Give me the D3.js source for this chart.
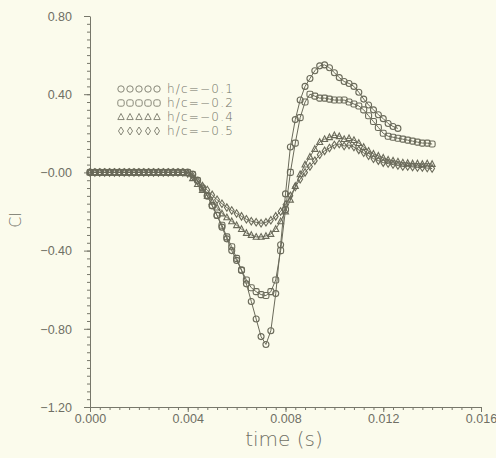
<!DOCTYPE html>
<html>
<head>
<meta charset="utf-8">
<script src="https://cdn.jsdelivr.net/npm/d3@7"></script>
<style>
  html, body { margin: 0; padding: 0; background: #fbfbec; }
  svg { display: block; font-family: "DejaVu Sans", sans-serif; }
  .tick text { fill: #6f6f64; font-size: 12.5px; font-weight: 200; }
  .domain, .tick line { stroke: #77776a; }
</style>
</head>
<body>
<svg id="chart"></svg>
<script>
const width = 496;
const height = 458;

// sampling step of the computed series (s)
const timeStep = 0.0002;

// lift coefficient, one value per time step
const cl01 = [
  0, 0, 0, 0, 0, 0, 0, 0, 0, 0, 0, 0, 0, 0, 0, 0, 0, 0, 0, 0, 0,
  -0.01, -0.04, -0.08, -0.12, -0.17, -0.22, -0.28, -0.34, -0.40, -0.45,
  -0.50, -0.57, -0.66, -0.75, -0.84, -0.88, -0.81, -0.62, -0.37, -0.11,
  0.13, 0.27, 0.37, 0.44, 0.48, 0.52, 0.545, 0.55, 0.535, 0.51,
  0.485, 0.465, 0.455, 0.44, 0.41, 0.375, 0.345, 0.32, 0.295, 0.275,
  0.25, 0.235, 0.225,
];
const cl02 = [
  0, 0, 0, 0, 0, 0, 0, 0, 0, 0, 0, 0, 0, 0, 0, 0, 0, 0, 0, 0, 0,
  -0.01, -0.04, -0.08, -0.12, -0.17, -0.22, -0.27, -0.33, -0.38, -0.44,
  -0.50, -0.55, -0.59, -0.61, -0.625, -0.63, -0.61, -0.55, -0.40, -0.19,
  0.0, 0.15, 0.28, 0.36, 0.40, 0.39, 0.38, 0.38, 0.375, 0.37,
  0.37, 0.37, 0.36, 0.35, 0.34, 0.32, 0.29, 0.26, 0.23, 0.20,
  0.185, 0.18, 0.175, 0.17, 0.165, 0.16, 0.155, 0.15, 0.15, 0.145,
];
const cl04 = [
  0, 0, 0, 0, 0, 0, 0, 0, 0, 0, 0, 0, 0, 0, 0, 0, 0, 0, 0, 0, -0.005,
  -0.03, -0.06, -0.09, -0.12, -0.15, -0.18, -0.21, -0.23, -0.25, -0.27,
  -0.29, -0.31, -0.32, -0.33, -0.33, -0.325, -0.315, -0.29, -0.25, -0.20,
  -0.14, -0.07, -0.01, 0.04, 0.08, 0.12, 0.155, 0.17, 0.18, 0.19,
  0.185, 0.17, 0.175, 0.165, 0.15, 0.13, 0.11, 0.095, 0.085, 0.075,
  0.065, 0.06, 0.055, 0.05, 0.048, 0.045, 0.045, 0.043, 0.045, 0.043,
];
const cl05 = [
  0, 0, 0, 0, 0, 0, 0, 0, 0, 0, 0, 0, 0, 0, 0, 0, 0, 0, 0, 0, -0.005,
  -0.02, -0.045, -0.07, -0.09, -0.115, -0.14, -0.16, -0.18, -0.195, -0.21,
  -0.225, -0.24, -0.25, -0.255, -0.26, -0.255, -0.245, -0.225, -0.20, -0.165,
  -0.12, -0.075, -0.035, 0.0, 0.03, 0.06, 0.09, 0.11, 0.125, 0.14,
  0.145, 0.135, 0.14, 0.13, 0.115, 0.10, 0.085, 0.07, 0.06, 0.05,
  0.045, 0.04, 0.035, 0.03, 0.03, 0.028, 0.025, 0.025, 0.022, 0.02,
];

const seriesNames = ["h/c=\u22120.1", "h/c=\u22120.2", "h/c=\u22120.4", "h/c=\u22120.5"];
const seriesValues = [cl01, cl02, cl04, cl05];
const seriesMarkers = ["circle", "square", "triangle", "diamond"];

const xTicks = [0, 0.004, 0.008, 0.012, 0.016];
const yTicks = [-1.2, -0.8, -0.4, 0, 0.4, 0.8];

const lineColor = "#6a6a5a";
const textColor = "#6f6f64";

const svg = d3.select("#chart").attr("width", width).attr("height", height);

const x = d3.scaleLinear().domain([0, 0.016]).range([90, 481]);
const y = d3.scaleLinear().domain([-1.2, 0.8]).range([407, 16]);

// axes: long outward major ticks, short minor ticks
const fmtY = (d) => (d <= 0 ? "\u2212" : "") + d3.format(".2f")(Math.abs(d));

svg.append("g")
  .attr("transform", "translate(90,0)")
  .call(d3.axisLeft(y).tickValues(d3.range(-1.2, 0.8001, 0.04)).tickSize(3).tickFormat(""))
  .call((g) => g.select(".domain").remove());
svg.append("g")
  .attr("transform", "translate(90,0)")
  .call(d3.axisLeft(y).tickValues(yTicks).tickSize(6).tickSizeOuter(0).tickPadding(12).tickFormat(fmtY))
  .call((g) => g.selectAll("text").attr("dy", "0.35em"));

svg.append("g")
  .attr("transform", "translate(0,407)")
  .call(d3.axisBottom(x).tickValues(d3.range(0, 0.01601, 0.0004)).tickSize(3).tickFormat(""))
  .call((g) => g.select(".domain").remove());
svg.append("g")
  .attr("transform", "translate(0,407)")
  .call(d3.axisBottom(x).tickValues(xTicks).tickSize(5).tickSizeOuter(0).tickPadding(2).tickFormat(d3.format(".3f")));

// axis titles
svg.append("text")
  .attr("x", 284)
  .attr("y", 446)
  .attr("text-anchor", "middle")
  .style("font-size", "20px")
  .style("font-weight", 200)
  .style("fill", textColor)
  .text("time  (s)");

svg.append("text")
  .attr("transform", "translate(21,220) rotate(-90)")
  .attr("text-anchor", "middle")
  .style("font-size", "16px")
  .style("font-weight", 200)
  .style("fill", textColor)
  .text("Cl");

// marker shapes
function drawMarker(sel, kind, r) {
  if (kind === "circle") {
    sel.append("circle").attr("r", r);
  } else if (kind === "square") {
    sel.append("rect").attr("x", -r).attr("y", -r).attr("width", 2 * r).attr("height", 2 * r).attr("rx", r * 0.6);
  } else if (kind === "triangle") {
    sel.append("path").attr("d", `M0,${-r * 1.1}L${r},${r * 0.8}L${-r},${r * 0.8}Z`);
  } else {
    sel.append("path").attr("d", `M0,${-r * 1.25}L${r * 0.8},0L0,${r * 1.25}L${-r * 0.8},0Z`);
  }
}

const line = d3.line().x((d) => x(d.t)).y((d) => y(d.v));

seriesValues.forEach((vals, k) => {
  const pts = vals.map((v, i) => ({ t: i * timeStep, v: v }));
  const g = svg.append("g").attr("class", "series");
  g.append("path")
    .datum(pts)
    .attr("d", line)
    .attr("fill", "none")
    .attr("stroke", lineColor)
    .attr("stroke-width", 1);
  g.selectAll(".m")
    .data(pts)
    .join("g")
    .attr("class", "m")
    .attr("transform", (d) => `translate(${x(d.t)},${y(d.v)})`)
    .each(function () {
      drawMarker(d3.select(this), seriesMarkers[k], 3);
    })
    .selectAll("*")
    .attr("fill", "none")
    .attr("stroke", lineColor)
    .attr("stroke-width", 1.1);
});

// legend
const legend = svg.append("g").attr("class", "legend");
seriesNames.forEach((name, k) => {
  const ly = 89 + k * 14;
  const row = legend.append("g").attr("transform", `translate(0,${ly})`);
  d3.range(5).forEach((j) => {
    const m = row.append("g").attr("transform", `translate(${121 + j * 9},0)`);
    drawMarker(m, seriesMarkers[k], 3.2);
    m.selectAll("*").attr("fill", "none").attr("stroke", "#7a7a6c").attr("stroke-width", 0.9);
  });
  row.append("text")
    .attr("x", 167)
    .attr("y", 0)
    .attr("dy", "0.35em")
    .style("font-size", "12px")
    .style("font-weight", 200)
    .style("letter-spacing", "1.2px")
    .style("fill", textColor)
    .text(name);
});
</script>
</body>
</html>
